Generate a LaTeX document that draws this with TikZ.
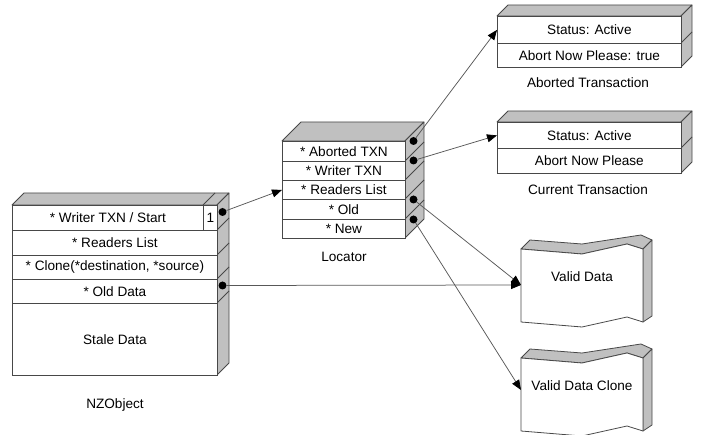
\documentclass[tikz,border=0pt]{standalone}
\usepackage{fontspec}
\setmainfont{Liberation Sans}
\usetikzlibrary{arrows.meta,calc}
\definecolor{edge}{HTML}{484848}
\definecolor{sidecol}{HTML}{C0C0C0}
\definecolor{wire}{HTML}{585858}
\begin{document}
\begin{tikzpicture}[x=1pt,y=-1pt,
  every node/.style={font=\fontsize{13.6}{16}\selectfont},
  row/.style={draw=edge, fill=white, inner sep=0pt, anchor=north west, line width=0.8pt},
  face/.style={fill=sidecol, draw=edge, line width=0.8pt, line join=round},
  seam/.style={draw=edge, line width=0.8pt},
  dotmark/.style={circle, fill=black, inner sep=0pt, minimum size=8pt},
  link/.style={draw=wire, line width=0.75pt, -{Triangle[length=10pt,width=8pt,color=black]}},
  caption/.style={anchor=center, inner sep=0pt}]
\useasboundingbox (0,0) rectangle (704,435);

% ---------- NZObject ----------
\path[face] (12,205) -- (24,193) -- (229,193) -- (217,205) -- cycle;
\path[face] (217,205) -- (229,193) -- (229,363) -- (217,375) -- cycle;
\path[seam] (203,205) -- (215,193);
\foreach \yy in {230,255,279,303} \path[seam] (217,\yy) -- (229,\yy-12);
\node[row, minimum width=191pt, minimum height=25pt] (nz1) at (12,205) {* Writer TXN / Start};
\node[row, minimum width=14pt, minimum height=25pt] (nzc) at (203,205) {1};
\node[row, minimum width=205pt, minimum height=25pt] (nz2) at (12,230) {* Readers List};
\node[row, minimum width=205pt, minimum height=24pt] (nz3) at (12,255) {* Clone(*destination, *source)};
\node[row, minimum width=205pt, minimum height=24pt] (nz4) at (12,279) {* Old Data};
\node[row, minimum width=205pt, minimum height=72pt] (nz5) at (12,303) {Stale Data};
\node[caption] (nzlabel) at (115,405) {NZObject};

% ---------- Locator ----------
\path[face] (282,141) -- (301,122) -- (424,122) -- (405,141) -- cycle;
\path[face] (405,141) -- (424,122) -- (424,219) -- (405,238) -- cycle;
\foreach \yy in {161,180,199,219} \path[seam] (405,\yy) -- (424,\yy-19);
\node[row, minimum width=123pt, minimum height=20pt] (loc1) at (282,141) {* Aborted TXN};
\node[row, minimum width=123pt, minimum height=19pt] (loc2) at (282,161) {* Writer TXN};
\node[row, minimum width=123pt, minimum height=19pt] (loc3) at (282,180) {* Readers List};
\node[row, minimum width=123pt, minimum height=20pt] (loc4) at (282,199) {* Old};
\node[row, minimum width=123pt, minimum height=19pt] (loc5) at (282,219) {* New};
\node[caption] (loclabel) at (344,257) {Locator};

% ---------- Aborted Transaction ----------
\path[face] (497,16) -- (508,5) -- (692,5) -- (681,16) -- cycle;
\path[face] (681,16) -- (692,5) -- (692,56) -- (681,67) -- cycle;
\path[seam] (681,43) -- (692,32);
\node[row, minimum width=184pt, minimum height=27pt] (at1) at (497,16) {Status: Active};
\node[row, minimum width=184pt, minimum height=24pt] (at2) at (497,43) {Abort Now Please: true};
\node[caption] (atlabel) at (588,83) {Aborted Transaction};

% ---------- Current Transaction ----------
\path[face] (497,122) -- (508,111) -- (692,111) -- (681,122) -- cycle;
\path[face] (681,122) -- (692,111) -- (692,162) -- (681,173) -- cycle;
\path[seam] (681,148) -- (692,137);
\node[row, minimum width=184pt, minimum height=26pt] (ct1) at (497,122) {Status: Active};
\node[row, minimum width=184pt, minimum height=25pt] (ct2) at (497,148) {Abort Now Please};
\node[caption] (ctlabel) at (588,190) {Current Transaction};

% ---------- Valid Data ----------
\foreach \dy in {0,109}{
  \begin{scope}[yshift=-\dy pt]
    \path[face] (521,249) -- (530,240) -- (582,244) -- (641,235) -- (652,240) -- (643,249) -- (627,244) -- (582,254) -- cycle;
    \path[face] (643,249) -- (652,240) -- (652,316) -- (643,322) -- cycle;
    \path[draw=edge, fill=white, line width=0.8pt, line join=round]
      (521,249) -- (582,254) -- (627,244) -- (643,249) -- (643,322) -- (627,317) -- (582,327) -- (521,322) -- cycle;
  \end{scope}
}
\node[caption] (vd) at (582,277) {Valid Data};
\node[caption] (vdc) at (582,386) {Valid Data Clone};
\coordinate (vdin) at (521,285);
\coordinate (vdcin) at (521,390);

% ---------- dots ----------
\node[dotmark] (nzd1) at (222.5,212) {};
\node[dotmark] (nzd4) at (222.5,285.5) {};
\node[dotmark] (ld1) at (413.5,141) {};
\node[dotmark] (ld2) at (413.5,160.5) {};
\node[dotmark] (ld4) at (413.5,199.5) {};
\node[dotmark] (ld5) at (413.5,219.5) {};

% ---------- connectors ----------
\draw[link] (nzd1) -- (loc3.west);
\draw[link] (nzd4) -- (vdin);
\draw[link] (ld1) -- (at1.west);
\draw[link] (ld2) -- (ct1.west);
\draw[link] (ld4) -- (vdin);
\draw[link] (ld5) -- (vdcin);
\end{tikzpicture}
\end{document}
